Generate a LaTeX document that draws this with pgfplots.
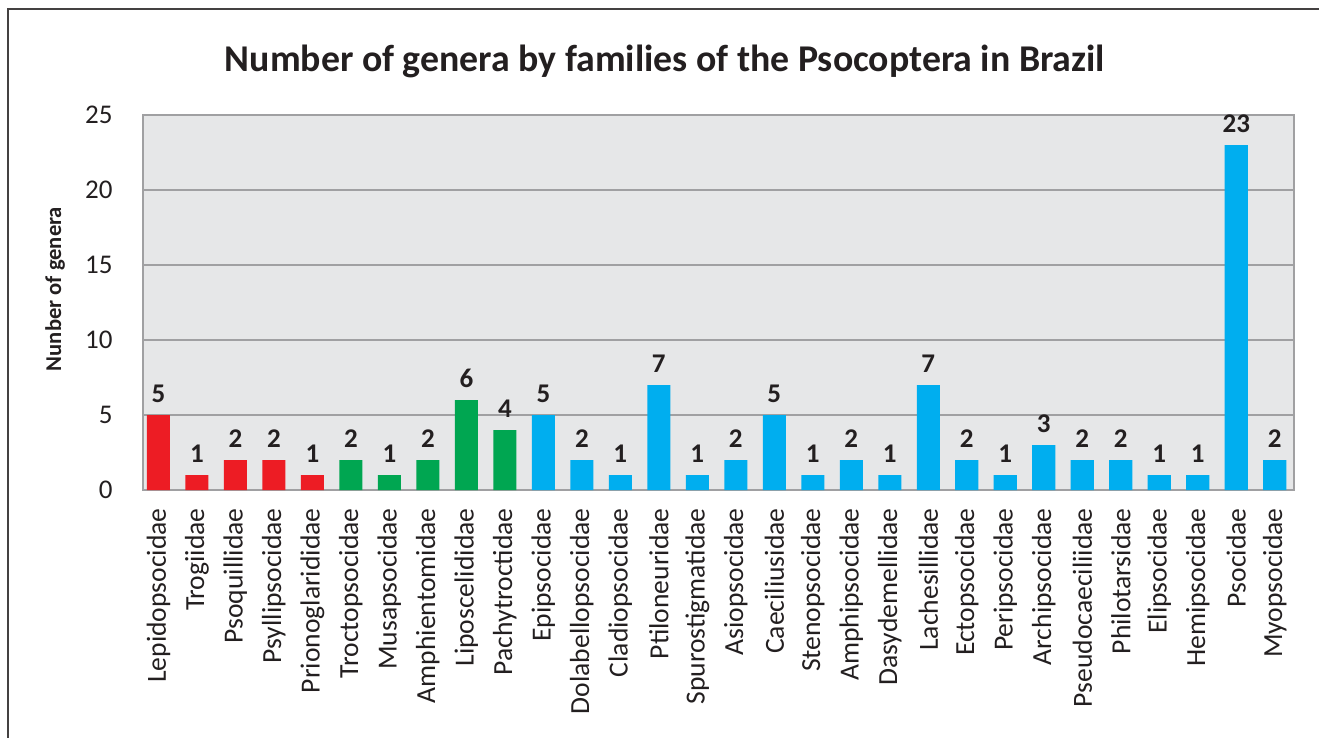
\documentclass[border=0pt]{standalone}
\usepackage{pgfplots}
\pgfplotsset{compat=1.18}
\usepackage{fontspec}
\setmainfont{Carlito}
\definecolor{cred}{HTML}{ED1C24}
\definecolor{cgreen}{HTML}{00A651}
\definecolor{cblue}{HTML}{00AEEF}
\definecolor{cbg}{HTML}{E6E7E8}
\definecolor{cgrid}{HTML}{A0A0A2}
\definecolor{ctext}{HTML}{231F20}
\begin{document}
\begin{tikzpicture}
\path[use as bounding box] (0,0) rectangle (659.5pt,-369pt);
\draw[line width=1pt, color=ctext!85] (4pt,-800pt) -- (4pt,-4.5pt) -- (900pt,-4.5pt);
\node[font=\fontsize{18.9}{22}\selectfont\bfseries, color=ctext] at (332.5pt,-30.5pt) {Number of genera by families of the Psocoptera in Brazil};
\node[font=\fontsize{11.3}{14}\selectfont\bfseries, color=ctext, rotate=90] at (27.5pt,-144.5pt) {Nunber of genera};
\begin{axis}[
  at={(71.5pt,-57.5pt)}, anchor=north west,
  scale only axis, width=575.5pt, height=187.5pt,
  xmin=-0.4, xmax=29.5, ymin=0, ymax=25,
  ytick={0,5,10,15,20,25},
  xtick={0,...,29},
  xticklabels={Lepidopsocidae,Trogiidae,Psoquillidae,Psyllipsocidae,Prionoglarididae,Troctopsocidae,Musapsocidae,Amphientomidae,Liposcelididae,Pachytroctidae,Epipsocidae,Dolabellopsocidae,Cladiopsocidae,Ptiloneuridae,Spurostigmatidae,Asiopsocidae,Caeciliusidae,Stenopsocidae,Amphipsocidae,Dasydemellidae,Lachesillidae,Ectopsocidae,Peripsocidae,Archipsocidae,Pseudocaeciliidae,Philotarsidae,Elipsocidae,Hemipsocidae,Psocidae,Myopsocidae},
  major tick length=0pt,
  /pgf/number format/assume math mode=true,
  xticklabel style={rotate=90, anchor=east, inner sep=0pt, font=\fontsize{13.8}{16}\selectfont, color=ctext},
  xticklabel shift=9pt,
  yticklabel style={anchor=east, inner sep=0pt, font=\fontsize{13.5}{16}\selectfont, color=ctext},
  yticklabel shift=15pt,
  ymajorgrids, grid style={color=cgrid, line width=1pt},
  axis line style={color=cgrid, line width=1pt},
  axis background/.style={fill=cbg},
  ybar, bar width=0.6, bar shift=0pt,
  nodes near coords,
  nodes near coords style={font=\fontsize{13.5}{16}\selectfont\bfseries, color=ctext, anchor=south, inner sep=0pt, yshift=6pt},
  every axis plot/.append style={draw=none},
]
\addplot[fill=cred] coordinates {(0,5) (1,1) (2,2) (3,2) (4,1)};
\addplot[fill=cgreen] coordinates {(5,2) (6,1) (7,2) (8,6) (9,4)};
\addplot[fill=cblue] coordinates {(10,5) (11,2) (12,1) (13,7) (14,1) (15,2) (16,5) (17,1) (18,2) (19,1) (20,7) (21,2) (22,1) (23,3) (24,2) (25,2) (26,1) (27,1) (28,23) (29,2)};
\end{axis}
\end{tikzpicture}
\end{document}
